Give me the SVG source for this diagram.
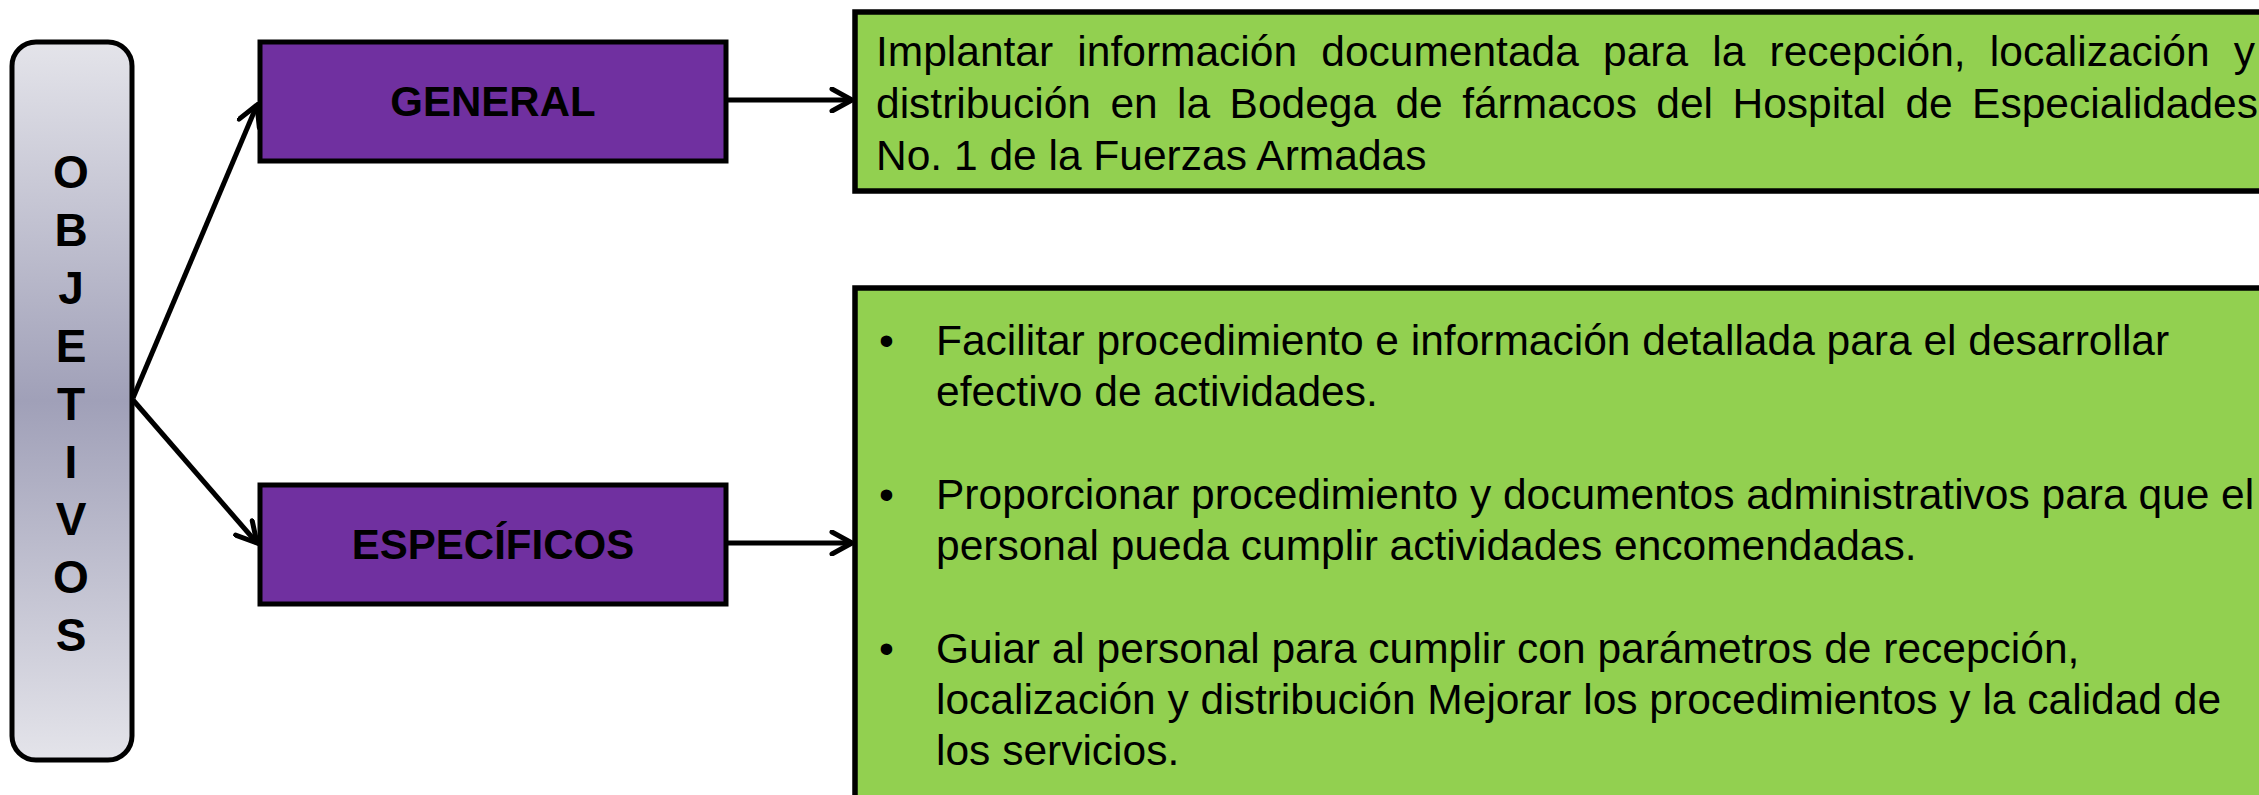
<svg xmlns="http://www.w3.org/2000/svg" width="2259" height="795" viewBox="0 0 2259 795">
<style>
.lbl{font-family:"Liberation Sans",Arial,sans-serif;font-weight:bold;font-size:42px;fill:#000;text-anchor:middle}
.let{font-family:"Liberation Sans",Arial,sans-serif;font-weight:bold;font-size:46px;fill:#000;text-anchor:middle}
.txt{font-family:"Liberation Sans",Arial,sans-serif;font-size:42.5px;fill:#000}
.purple{fill:#7030a0;stroke:#000;stroke-width:5}
.green{fill:#92d050;stroke:#000;stroke-width:5.5}
.conn{stroke:#000;stroke-width:5;fill:none;marker-end:url(#arr)}
</style>
<defs>
<linearGradient id="g" x1="0" y1="0" x2="0" y2="1">
<stop offset="0" stop-color="#e4e4ea"/>
<stop offset="0.5" stop-color="#a0a0b8"/>
<stop offset="1" stop-color="#e4e4ea"/>
</linearGradient>
<marker id="arr" viewBox="0 0 26 26" refX="23" refY="13" markerWidth="26" markerHeight="26" markerUnits="userSpaceOnUse" orient="auto">
<path d="M3,2 L23,13 L3,24" fill="none" stroke="#000" stroke-width="5" stroke-linecap="round" stroke-linejoin="miter"/>
</marker>
</defs>
<rect width="2259" height="795" fill="#fff"/>
<g id="objetivos">
<rect x="12" y="42" width="120" height="718" rx="24" ry="24" fill="url(#g)" stroke="#000" stroke-width="5"/>
<text class="let" x="71" y="188">O</text>
<text class="let" x="71" y="246">B</text>
<text class="let" x="71" y="304">J</text>
<text class="let" x="71" y="362">E</text>
<text class="let" x="71" y="420">T</text>
<text class="let" x="71" y="478">I</text>
<text class="let" x="71" y="535">V</text>
<text class="let" x="71" y="593">O</text>
<text class="let" x="71" y="651">S</text>
</g>
<g id="general">
<rect class="purple" x="260" y="42" width="466" height="119"/>
<text class="lbl" x="493" y="116">GENERAL</text>
</g>
<g id="especificos">
<rect class="purple" x="260" y="485" width="466" height="119"/>
<text class="lbl" x="493" y="559">ESPECÍFICOS</text>
</g>
<g id="general-text">
<rect class="green" x="855" y="12" width="1420" height="179"/>
<text class="txt" x="876" y="66" word-spacing="12.4">Implantar información documentada para la recepción, localización y</text>
<text class="txt" x="876" y="118" word-spacing="7.6">distribución en la Bodega de fármacos del Hospital de Especialidades</text>
<text class="txt" x="876" y="170">No. 1 de la Fuerzas Armadas</text>
</g>
<g id="especificos-text">
<rect class="green" x="855" y="288" width="1420" height="530"/>
<text class="txt" x="879" y="355">•</text>
<text class="txt" x="936" y="355">Facilitar procedimiento e información detallada para el desarrollar</text>
<text class="txt" x="936" y="406">efectivo de actividades.</text>
<text class="txt" x="879" y="509">•</text>
<text class="txt" x="936" y="509">Proporcionar procedimiento y documentos administrativos para que el</text>
<text class="txt" x="936" y="560">personal pueda cumplir actividades encomendadas.</text>
<text class="txt" x="879" y="663">•</text>
<text class="txt" x="936" y="663">Guiar al personal para cumplir con parámetros de recepción,</text>
<text class="txt" x="936" y="714">localización y distribución Mejorar los procedimientos y la calidad de</text>
<text class="txt" x="936" y="765">los servicios.</text>
</g>
<g id="connectors">
<line class="conn" x1="133" y1="398" x2="257" y2="105"/>
<line class="conn" x1="133" y1="400" x2="257" y2="543"/>
<line class="conn" x1="727" y1="100" x2="852" y2="100"/>
<line class="conn" x1="727" y1="543" x2="852" y2="543"/>
</g>
</svg>
